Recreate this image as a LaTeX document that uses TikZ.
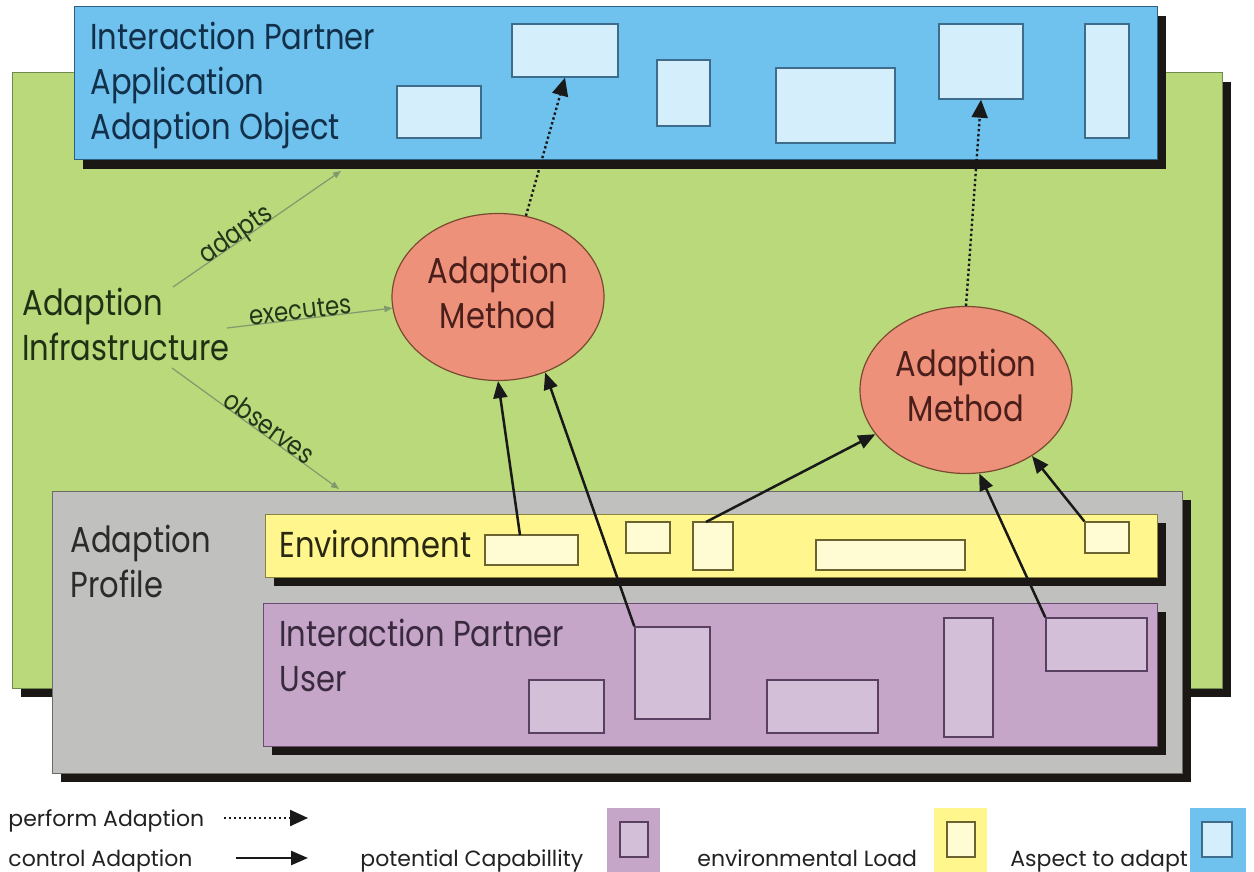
\documentclass[tikz,border=0pt]{standalone}
\usepackage{fontspec}
\setmainfont{Poppins}[FakeStretch=0.85]
\newfontfamily\legendfont{Poppins}
\usetikzlibrary{arrows.meta,shapes.geometric,fit,shadows}

\definecolor{shadowc}{HTML}{1A1715}
\definecolor{appfill}{HTML}{6FC1EE}
\definecolor{appline}{HTML}{2C5F80}
\definecolor{appitem}{HTML}{D5EEFB}
\definecolor{appitemline}{HTML}{3E6C8C}
\definecolor{apptext}{HTML}{12304A}
\definecolor{infrafill}{HTML}{B9D97B}
\definecolor{infraline}{HTML}{6F8A4C}
\definecolor{infratext}{HTML}{1F3014}
\definecolor{proffill}{HTML}{C0C0BE}
\definecolor{profline}{HTML}{6C6C66}
\definecolor{proftext}{HTML}{2B2B2B}
\definecolor{envfill}{HTML}{FFF78E}
\definecolor{envline}{HTML}{8C8240}
\definecolor{envitem}{HTML}{FFFBD2}
\definecolor{envitemline}{HTML}{6B6330}
\definecolor{envtext}{HTML}{2A2812}
\definecolor{userfill}{HTML}{C6A6C8}
\definecolor{userline}{HTML}{6A4C70}
\definecolor{useritem}{HTML}{D3BFD8}
\definecolor{useritemline}{HTML}{5A4060}
\definecolor{usertext}{HTML}{3A2A40}
\definecolor{methfill}{HTML}{EE917B}
\definecolor{methline}{HTML}{7A4A30}
\definecolor{methtext}{HTML}{4A1E1A}
\definecolor{reltext}{HTML}{22361A}
\definecolor{relline}{HTML}{7F9A6C}
\definecolor{legtext}{HTML}{222222}

\newcommand{\linesof}[2][l]{\begin{tabular}[t]{@{}#1@{}}#2\end{tabular}}
\newcommand{\mainfs}{\fontsize{18}{22.5}\selectfont}
\newcommand{\relfs}{\fontsize{13.5}{16}\selectfont}
\newcommand{\legfs}{\legendfont\fontsize{11}{13}\selectfont}

\begin{document}
\begin{tikzpicture}[x=0.5pt, y=-0.5pt,
  panel/.style={draw=#1line, fill=#1fill, line width=0.5pt, inner sep=0pt,
    general shadow={fill=shadowc, shadow xshift=4.5pt, shadow yshift=-4.5pt}},
  item/.style={draw=#1itemline, fill=#1item, line width=0.7pt, inner sep=0pt},
  swatch/.style={fill=#1fill, inner sep=0pt},
  label/.style={anchor=base west, inner sep=0pt, font=\mainfs, text=#1text},
  method/.style={ellipse, draw=methline, fill=methfill, line width=0.6pt,
    minimum width=106pt, minimum height=83.5pt, inner sep=0pt,
    font=\mainfs, text=methtext},
  rel/.style={draw=relline, line width=0.6pt, -{Triangle[length=4pt,width=3.2pt]}},
  rellabel/.style={sloped, anchor=base, inner sep=0pt, font=\relfs, text=reltext},
  ctrl/.style={draw=black!90, line width=1.25pt, -{Triangle[length=8.5pt,width=7pt]}},
  perform/.style={draw=black!90, line width=1.2pt, dash pattern=on 1.2pt off 1.3pt,
    -{Triangle[length=9pt,width=8pt]}},
  legend/.style={anchor=base west, inner sep=0pt, font=\legfs, text=legtext}]

\useasboundingbox (0,0) rectangle (1254,872);
\fill[white] (0,0) rectangle (1254,872);

% adaption infrastructure
\node[panel=infra, fit={(12,73) (1222,688)}] (infra) {};
\node[label=infra] (infratitle) at (22,315) {\linesof{Adaption\\Infrastructure}};

% application with its adaptable aspects
\node[panel=app, fit={(74,7) (1157,160)}] (app) {};
\node[label=app] (apptitle) at (90,50) {\linesof{Interaction Partner\\Application\\Adaption Object}};
\node[item=app, fit={(397,86) (481,138)}] (bb1) {};
\node[item=app, fit={(512,24) (618,77)}] (bb2) {};
\node[item=app, fit={(657,60) (710,126)}] (bb3) {};
\node[item=app, fit={(776,68) (895,143)}] (bb4) {};
\node[item=app, fit={(939,24) (1023,99)}] (bb5) {};
\node[item=app, fit={(1085,24) (1129,138)}] (bb6) {};

% adaption profile
\node[panel=prof, fit={(52,491) (1182,773)}] (prof) {};
\node[label=prof] (proftitle) at (70,552) {\linesof{Adaption\\Profile}};

\node[panel=env, fit={(265,514) (1157,577)}] (env) {};
\node[label=env] (envtitle) at (279,557) {Environment};
\node[item=env, fit={(485,535) (578,565)}] (eb1) {};
\node[item=env, fit={(626,522) (670,553)}] (eb2) {};
\node[item=env, fit={(693,522) (733,570)}] (eb3) {};
\node[item=env, fit={(816,540) (965,570)}] (eb4) {};
\node[item=env, fit={(1085,522) (1129,553)}] (eb5) {};

\node[panel=user, fit={(263,603) (1157,746)}] (user) {};
\node[label=user] (usertitle) at (279,646) {\linesof{Interaction Partner\\User}};
\node[item=user, fit={(529,680) (604,733)}] (pb1) {};
\node[item=user, fit={(635,627) (710,719)}] (pb2) {};
\node[item=user, fit={(767,680) (878,733)}] (pb3) {};
\node[item=user, fit={(944,618) (993,737)}] (pb4) {};
\node[item=user, fit={(1046,618) (1147,671)}] (pb5) {};

% adaption methods
\node[method] (m1) at (498,297) {\linesof[c]{Adaption\\Method}};
\node[method] (m2) at (966,390) {\linesof[c]{Adaption\\Method}};

% relations of the infrastructure
\coordinate (adS) at (173,287);
\coordinate (adE) at (341,171);
\coordinate (exS) at (227,328);
\coordinate (obS) at (172,368);
\coordinate (obE) at (339,489);
\draw[rel] (adS) -- node[rellabel, pos=0.4] {adapts} (adE);
\draw[rel] (exS) -- node[rellabel, pos=0.45] {executes} (m1.186);
\draw[rel] (obS) -- node[rellabel, pos=0.55] {observes} (obE);

% control adaption
\coordinate (c1s) at (520,535);
\coordinate (c3s) at (706,522);
\draw[ctrl] (c1s) -- (m1.-90);
\draw[ctrl] (pb2.north west) -- (m1.-58);
\draw[ctrl] (c3s) -- (m2.206);
\draw[ctrl] (pb5.north west) -- (m2.-81);
\draw[ctrl] (eb5.north west) -- (m2.-45);

% perform adaption
\draw[perform] (m1.71) -- (bb2.south);
\draw[perform] (m2.north) -- (bb5.south);

% legend
\node[legend] (lgperf) at (8,826) {perform Adaption};
\node[legend] (lgctrl) at (8,866) {control Adaption};
\coordinate (lpA) at (224,818);
\coordinate (lpB) at (308,818);
\coordinate (lcA) at (236,858);
\coordinate (lcB) at (308,858);
\draw[perform] (lpA) -- (lpB);
\draw[ctrl] (lcA) -- (lcB);

\node[legend] (lguser) at (360,866) {potential Capabillity};
\node[swatch=user, fit={(607,808) (660,872)}] (swuser) {};
\node[item=user, fit={(620,822) (648,857)}] (swuseri) {};

\node[legend] (lgenv) at (697,866) {environmental Load};
\node[swatch=env, fit={(934,808) (987,872)}] (swenv) {};
\node[item=env, fit={(947,822) (975,857)}] (swenvi) {};

\node[legend] (lgapp) at (1010,866) {Aspect to adapt};
\node[swatch=app, fit={(1190,808) (1246,872)}] (swapp) {};
\node[item=app, fit={(1202,822) (1232,857)}] (swappi) {};
\end{tikzpicture}
\end{document}
